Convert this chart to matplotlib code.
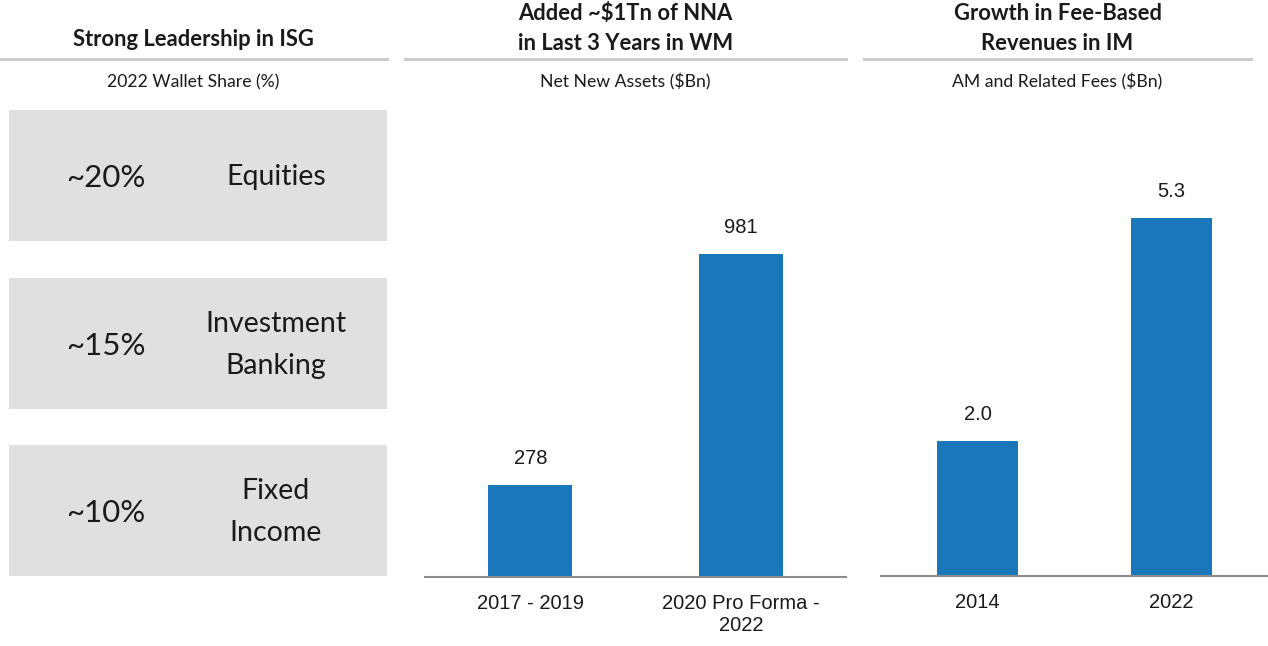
import matplotlib
matplotlib.use("Agg")
import matplotlib.pyplot as plt
from matplotlib.patches import Rectangle

# data
wallet_share = ["~20%", "~15%", "~10%"]
wallet_names = ["Equities", "Investment\nBanking", "Fixed\nIncome"]

nna_labels = ["2017 - 2019", "2020 Pro Forma -\n2022"]
nna_values = [278, 981]

fee_labels = ["2014", "2022"]
fee_values = [2.0, 5.3]

W, H = 1268, 646
blue = "#1a77b9"
title_font = "Lato"
sub_font = "Lato"

fig = plt.figure(figsize=(W / 100, H / 100), dpi=100)


def px(x, y):
    return x / W, 1 - y / H


def header(x0, x1, lines):
    fig.add_artist(plt.Line2D([x0 / W, x1 / W], [1 - 59 / H] * 2, color="#cccccc", lw=2.2))
    cx = (x0 + x1) / 2
    ys = [40] if len(lines) == 1 else [14, 43]
    for t, y in zip(lines, ys):
        fig.text(*px(cx, y), t, ha="center", va="center", fontsize=15.8,
                 fontweight="bold", family=title_font, color="#1a1a1a")


def subtitle(cx, t):
    fig.text(*px(cx, 82), t, ha="center", va="center", fontsize=12.7,
             family=sub_font, color="#1a1a1a")


# left panel
header(0, 387, ["Strong Leadership in ISG"])
subtitle(193, "2022 Wallet Share (%)")
box_tops = [110, 278, 445]
for top, pct, name in zip(box_tops, wallet_share, wallet_names):
    x0, y0 = px(9, top + 131)
    fig.add_artist(Rectangle((x0, y0), 378 / W, 131 / H, transform=fig.transFigure,
                             facecolor="#e0e0e0", edgecolor="none"))
    cy = top + 68
    fig.text(*px(106, cy), pct, ha="center", va="center", fontsize=22.5,
             family=title_font, color="#1a1a1a")
    fig.text(*px(276, cy - 1), name, ha="center", va="center", fontsize=20.5,
             family=title_font, color="#1a1a1a", linespacing=1.72)

# middle panel
header(405, 846, ["Added ~$1Tn of NNA", "in Last 3 Years in WM"])
subtitle(625, "Net New Assets ($Bn)")
ax1 = fig.add_axes([425 / W, 1 - 577 / H, 421 / W, 467 / H])
ax1.bar(range(len(nna_values)), nna_values, width=0.4, color=blue)
ax1.set_xlim(-0.5, 1.5)
ax1.set_ylim(0, 467 / (323 / 981))
for i, v in enumerate(nna_values):
    ax1.annotate(f"{v}", (i, v), xytext=(0, 17), textcoords="offset pixels",
                 ha="center", va="bottom", fontsize=14.5, family="Liberation Sans", color="#1a1a1a")

# right panel
header(864, 1251, ["Growth in Fee-Based", "Revenues in IM"])
subtitle(1057, "AM and Related Fees ($Bn)")
ax2 = fig.add_axes([881 / W, 1 - 576 / H, 387 / W, 466 / H])
ax2.bar(range(len(fee_values)), fee_values, width=0.42, color=blue)
ax2.set_xlim(-0.5, 1.5)
ax2.set_ylim(0, 466 / 67.5)
for i, v in enumerate(fee_values):
    ax2.annotate(f"{v:.1f}", (i, v), xytext=(0, 17), textcoords="offset pixels",
                 ha="center", va="bottom", fontsize=14.5, family="Liberation Sans", color="#1a1a1a")

for ax, labels in [(ax1, nna_labels), (ax2, fee_labels)]:
    for s in ["top", "right", "left"]:
        ax.spines[s].set_visible(False)
    ax.spines["bottom"].set_color("#8c8c8c")
    ax.spines["bottom"].set_linewidth(1.5)
    ax.set_yticks([])
    ax.set_xticks(range(len(labels)))
    ax.set_xticklabels(labels, fontsize=14.5, family="Liberation Sans", color="#1a1a1a",
                       linespacing=1.25)
    ax.tick_params(axis="x", length=0, pad=12)

fig.savefig("out.png", dpi=100)
